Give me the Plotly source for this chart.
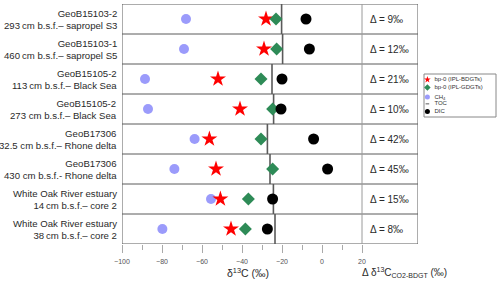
import plotly.graph_objects as go

# ---------------- data ----------------
site_names = ["GeoB15103-2", "GeoB15103-1", "GeoB15105-2", "GeoB15105-2",
              "GeoB17306", "GeoB17306", "White Oak River estuary", "White Oak River estuary"]
site_details = ["293\u2009cm b.s.f.\u2013 sapropel S3", "460\u2009cm b.s.f.\u2013 sapropel S5",
                "113\u2009cm b.s.f.\u2013 Black Sea", "273 cm b.s.f.\u2013 Black Sea",
                "32.5 cm b.s.f.\u2013 Rhone delta", "430 cm b.s.f.- Rhone delta",
                "14\u2009cm b.s.f.\u2013 core 2", "38\u2009cm b.s.f.\u2013 core 2"]
ch4 = [-68, -69, -88.5, -87, -63.7, -73.8, -55.5, -79.8]
bdgt = [-28, -29, -52, -41, -56.3, -53, -50.8, -45.5]
gdgt = [-23, -22.7, -30.5, -24.7, -30.5, -24.7, -36.8, -38.3]
dic = [-8, -6.3, -20, -20.5, -4.2, 2.8, -24.7, -27.3]
toc = [-20.2, -19.7, -25, -24.2, -27.3, -26, -24.3, -23.5]
delta = [9, 12, 21, 10, 42, 45, 15, 8]
major_ticks = [-100, -80, -60, -40, -20, 0, 20]
minor_ticks = [-90, -70, -50, -30, -10, 10]
legend_labels = ["bp-0 (IPL-BDGTs)", "bp-0 (IPL-GDGTs)", "CH<sub>4</sub>", "TOC", "DIC"]

# ---------------- styles ----------------
C_CH4 = "#9b9bfb"
C_BDGT = "#ff0000"
C_GDGT = "#2e8b57"
C_DIC = "#000000"
C_TOC = "#5a5a5a"
FRAME = "#5a5a5a"
FONT = "Liberation Sans, Arial, sans-serif"

n = len(site_names)
yc = [i + 0.5 for i in range(n)]

fig = go.Figure()

# TOC vertical segments per row
tx, ty = [], []
for i, v in enumerate(toc):
    tx += [v, v, None]
    ty += [i, i + 1, None]
fig.add_trace(go.Scatter(x=tx, y=ty, mode="lines", line=dict(color=C_TOC, width=1.6),
                         hoverinfo="skip", showlegend=False))
fig.add_trace(go.Scatter(x=ch4, y=yc, mode="markers",
                         marker=dict(symbol="circle", size=10, color=C_CH4), showlegend=False))
fig.add_trace(go.Scatter(x=bdgt, y=yc, mode="markers",
                         marker=dict(symbol="star", size=12, color=C_BDGT), showlegend=False))
fig.add_trace(go.Scatter(x=gdgt, y=yc, mode="markers",
                         marker=dict(symbol="diamond", size=10, color=C_GDGT), showlegend=False))
fig.add_trace(go.Scatter(x=dic, y=yc, mode="markers",
                         marker=dict(symbol="circle", size=11, color=C_DIC), showlegend=False))

# row separators
for i in range(n + 1):
    fig.add_shape(type="line", xref="x", yref="y", x0=-100, x1=48, y0=i, y1=i,
                  line=dict(color=FRAME, width=1))
# frame verticals
fig.add_shape(type="line", xref="x", yref="y", x0=-100, x1=-100, y0=0, y1=n,
              line=dict(color=FRAME, width=1))
fig.add_shape(type="line", xref="x", yref="y", x0=48, x1=48, y0=0, y1=n,
              line=dict(color=FRAME, width=1))
fig.add_shape(type="line", xref="x", yref="y", x0=20, x1=20, y0=0, y1=n,
              line=dict(color="#9a9a9a", width=1))

# left labels and delta labels
for i in range(n):
    fig.add_annotation(x=-100, y=yc[i], xref="x", yref="y", xanchor="right", yanchor="middle",
                       xshift=-3, align="right", showarrow=False,
                       text=site_names[i] + "<br>" + site_details[i],
                       font=dict(family=FONT, size=9.6, color="#2a2a2a"))
    fig.add_annotation(x=20, y=yc[i], xref="x", yref="y", xanchor="left", yanchor="middle",
                       xshift=6, showarrow=False, text="\u0394 = %d\u2030" % delta[i],
                       font=dict(family=FONT, size=10, color="#2a2a2a"))

# axis titles
fig.add_annotation(x=-37, y=-0.12, xref="x", yref="paper", yanchor="middle", showarrow=False,
                   text="\u03b4<sup>13</sup>C (\u2030)", font=dict(family=FONT, size=10.5, color="#2a2a2a"))
fig.add_annotation(x=41, y=-0.12, xref="x", yref="paper", yanchor="middle", showarrow=False,
                   text="\u0394 \u03b4<sup>13</sup>C<sub>CO2-BDGT</sub> (\u2030)",
                   font=dict(family=FONT, size=10, color="#2a2a2a"))

# ---------------- manual legend ----------------
L = 122; PW = 378; B = 244; PH = 240
lx0, lx1, ly0, ly1 = 424, 496, 74, 117
fig.add_shape(type="rect", xref="paper", yref="paper", layer="below",
              x0=(lx0 - L) / PW, x1=(lx1 - L) / PW, y0=(B - ly1) / PH, y1=(B - ly0) / PH,
              line=dict(color="#888888", width=1), fillcolor="white")
leg_y = [1, 2, 3.2, 4.05, 5]
leg_sym = ["star", "diamond", "circle", None, "circle"]
leg_col = [C_BDGT, C_GDGT, C_CH4, C_TOC, C_DIC]
for k in range(5):
    if leg_sym[k] is None:
        fig.add_trace(go.Scatter(x=[0.8, 2.6], y=[leg_y[k], leg_y[k]], mode="lines",
                                 line=dict(color=leg_col[k], width=1), xaxis="x2", yaxis="y2",
                                 showlegend=False, hoverinfo="skip"))
    else:
        fig.add_trace(go.Scatter(x=[1.7], y=[leg_y[k]], mode="markers",
                                 marker=dict(symbol=leg_sym[k], size=5, color=leg_col[k]),
                                 xaxis="x2", yaxis="y2", showlegend=False, hoverinfo="skip"))
    fig.add_trace(go.Scatter(x=[5.2], y=[leg_y[k]], mode="text", text=[legend_labels[k]],
                             textposition="middle right", cliponaxis=False,
                             textfont=dict(family=FONT, size=6, color="#333333"),
                             xaxis="x2", yaxis="y2", showlegend=False, hoverinfo="skip"))

fig.update_layout(
    width=500, height=283,
    margin=dict(l=L, r=0, t=4, b=39),
    paper_bgcolor="white", plot_bgcolor="rgba(0,0,0,0)",
    xaxis=dict(domain=[0, 296 / PW], range=[-100, 48], tickmode="array", tickvals=major_ticks,
               ticks="outside", ticklen=8, tickcolor="#aaaaaa", ticklabelstandoff=3,
               minor=dict(tickmode="array", tickvals=minor_ticks, ticks="outside", ticklen=5,
                          tickcolor="#aaaaaa", showgrid=False),
               showgrid=False, zeroline=False,
               showline=False, tickfont=dict(family=FONT, size=7, color="#555555")),
    yaxis=dict(range=[n, 0], showticklabels=False, showgrid=False, zeroline=False,
               showline=False, ticks=""),
    xaxis2=dict(domain=[(lx0 - L) / PW, (lx1 - L) / PW], range=[0, 36], visible=False,
                anchor="y2"),
    yaxis2=dict(domain=[(B - ly1) / PH, (B - ly0) / PH], range=[5.7, 0.3], visible=False,
                anchor="x2"),
    showlegend=False,
)

fig.write_html("out.html", config={"displayModeBar": False},
               post_script="document.body.style.margin='0';")
